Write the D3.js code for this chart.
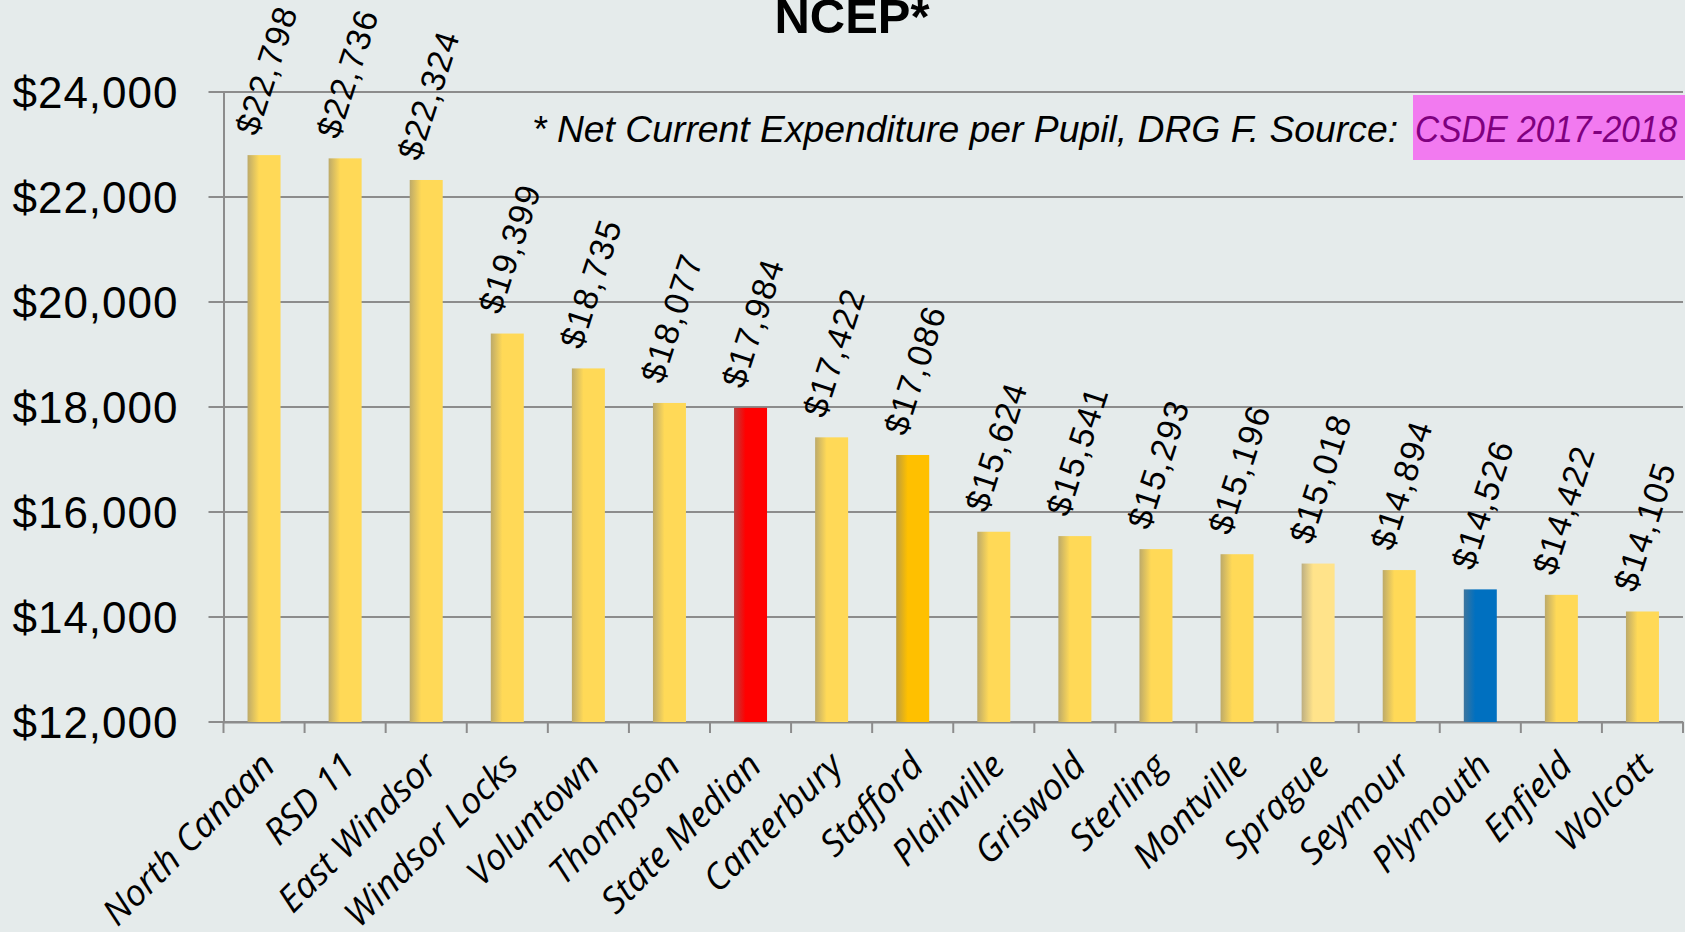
<!DOCTYPE html>
<html>
<head>
<meta charset="utf-8">
<script src="https://cdn.jsdelivr.net/npm/d3@7"></script>
<style>
    body { margin: 0; background: #e5ebeb; }
    svg { display: block; }
</style>
</head>
<body>
<svg id="mysvg" width="1685" height="932"></svg>
<script>
let districts = ["North Canaan", "RSD 11", "East Windsor", "Windsor Locks", "Voluntown", "Thompson",
    "State Median", "Canterbury", "Stafford", "Plainville", "Griswold", "Sterling", "Montville",
    "Sprague", "Seymour", "Plymouth", "Enfield", "Wolcott"];
let ncep = [22798, 22736, 22324, 19399, 18735, 18077, 17984, 17422, 17086, 15624, 15541, 15293,
    15196, 15018, 14894, 14526, 14422, 14105];
let barColors = ["#ffd957", "#ffd957", "#ffd957", "#ffd957", "#ffd957", "#ffd957", "#ff0000",
    "#ffd957", "#ffc000", "#ffd957", "#ffd957", "#ffd957", "#ffd957", "#ffe38a", "#ffd957",
    "#0070c0", "#ffd957", "#ffd957"];
let yTicks = [12000, 14000, 16000, 18000, 20000, 22000, 24000];

let title = "NCEP*";
let noteText = "* Net Current Expenditure per Pupil, DRG F. Source:";
let noteSource = "CSDE 2017-2018";

let plotLeft = 223.5, plotRight = 1683, plotTop = 92, plotBottom = 722;
let sans = "'Liberation Sans', Arial, sans-serif";

let svg = d3.select('#mysvg');

let x = d3.scaleBand().domain(districts).range([plotLeft, plotRight]);
let y = d3.scaleLinear().domain([12000, 24000]).range([plotBottom, plotTop]);

let data = districts.map(function(d, i){ return {name: d, value: ncep[i], color: barColors[i], index: i}; });

/* gradients: darker shade on the left edge of each bar */
let defs = svg.append("defs");
let colorList = Array.from(new Set(barColors));
colorList.forEach(function(c, i){
    let g = defs.append("linearGradient").attr("id", "grad" + i)
        .attr("x1", "0").attr("x2", "1").attr("y1", "0").attr("y2", "0");
    g.append("stop").attr("offset", "0").attr("stop-color", d3.interpolateRgb(c, "#7a7a7a")(0.5));
    g.append("stop").attr("offset", "0.35").attr("stop-color", c);
    g.append("stop").attr("offset", "1").attr("stop-color", c);
});

/* gridlines */
svg.append("g").selectAll("line.grid")
    .data(yTicks)
    .enter()
    .append("line")
    .attr("class", "grid")
    .attr("x1", plotLeft - 15)
    .attr("x2", plotRight)
    .attr("y1", function(d){return y(d)})
    .attr("y2", function(d){return y(d)})
    .attr("stroke", "#8c8c8c")
    .attr("stroke-width", 2);

/* y axis */
let yAxis = svg.append("g")
    .attr("transform", "translate(" + plotLeft + ",0)")
    .call(d3.axisLeft(y).tickValues(yTicks).tickSize(0).tickPadding(45)
        .tickFormat(function(d){return "$" + d3.format(",")(d)}));
yAxis.select(".domain").attr("stroke", "#8c8c8c").attr("stroke-width", 2);
yAxis.selectAll("text")
    .attr("fill", "black")
    .attr("font-family", sans)
    .attr("font-size", 44)
    .attr("letter-spacing", 1)
    .attr("dy", "0.36em");

/* x axis */
let xAxis = svg.append("g")
    .attr("transform", "translate(0," + plotBottom + ")")
    .call(d3.axisBottom(x).tickSize(0).tickFormat(""));
xAxis.select(".domain").attr("stroke", "#8c8c8c").attr("stroke-width", 2);

let edges = districts.map(function(d){return x(d)}).concat([plotRight]);
svg.append("g").selectAll("line.xtick")
    .data(edges)
    .enter()
    .append("line")
    .attr("x1", function(d){return d})
    .attr("x2", function(d){return d})
    .attr("y1", plotBottom)
    .attr("y2", plotBottom + 11)
    .attr("stroke", "#8c8c8c")
    .attr("stroke-width", 2);

svg.append("g").selectAll("text.xlab")
    .data(data)
    .enter()
    .append("text")
    .attr("class", "xlab")
    .attr("transform", function(d){return "translate(" + (x(d.name) + x.bandwidth()/2 + 13) + "," + (plotBottom + 46) + ") rotate(-45)"})
    .attr("text-anchor", "end")
    .attr("font-family", "'Open Sans', sans-serif")
    .attr("font-style", "italic")
    .attr("font-size", 36)
    .attr("fill", "black")
    .text(function(d){return d.name});

/* bars */
let barW = 33;
svg.append("g").selectAll("rect.bar")
    .data(data)
    .enter()
    .append("rect")
    .attr("class", "bar")
    .attr("x", function(d){return x(d.name) + x.bandwidth()/2 - barW/2})
    .attr("y", function(d){return y(d.value)})
    .attr("width", barW)
    .attr("height", function(d){return plotBottom - y(d.value)})
    .attr("fill", function(d){return "url(#grad" + colorList.indexOf(d.color) + ")"});

/* value labels */
svg.append("g").selectAll("text.val")
    .data(data)
    .enter()
    .append("text")
    .attr("class", "val")
    .attr("transform", function(d){return "translate(" + (x(d.name) + x.bandwidth()/2 - 7) + "," + (y(d.value) - 18) + ") rotate(-72)"})
    .attr("text-anchor", "start")
    .attr("font-family", sans)
    .attr("font-size", 34)
    .attr("letter-spacing", 1.5)
    .attr("fill", "black")
    .text(function(d){return "$" + d3.format(",")(d.value)});

/* title */
svg.append("text")
    .attr("x", 852)
    .attr("y", 33)
    .attr("text-anchor", "middle")
    .attr("font-family", sans)
    .attr("font-weight", "bold")
    .attr("font-size", 48)
    .attr("textLength", 155)
    .attr("lengthAdjust", "spacingAndGlyphs")
    .attr("fill", "black")
    .text(title);

/* note with highlighted source */
svg.append("rect")
    .attr("x", 1413)
    .attr("y", 95)
    .attr("width", 272)
    .attr("height", 65)
    .attr("fill", "#f27af0");

svg.append("text")
    .attr("x", 532)
    .attr("y", 142)
    .attr("font-family", sans)
    .attr("font-style", "italic")
    .attr("font-size", 37)
    .attr("textLength", 866)
    .attr("lengthAdjust", "spacingAndGlyphs")
    .attr("fill", "black")
    .text(noteText);

svg.append("text")
    .attr("x", 1415)
    .attr("y", 142)
    .attr("font-family", sans)
    .attr("font-style", "italic")
    .attr("font-size", 37)
    .attr("textLength", 262)
    .attr("lengthAdjust", "spacingAndGlyphs")
    .attr("fill", "#7f007f")
    .text(noteSource);
</script>
</body>
</html>
